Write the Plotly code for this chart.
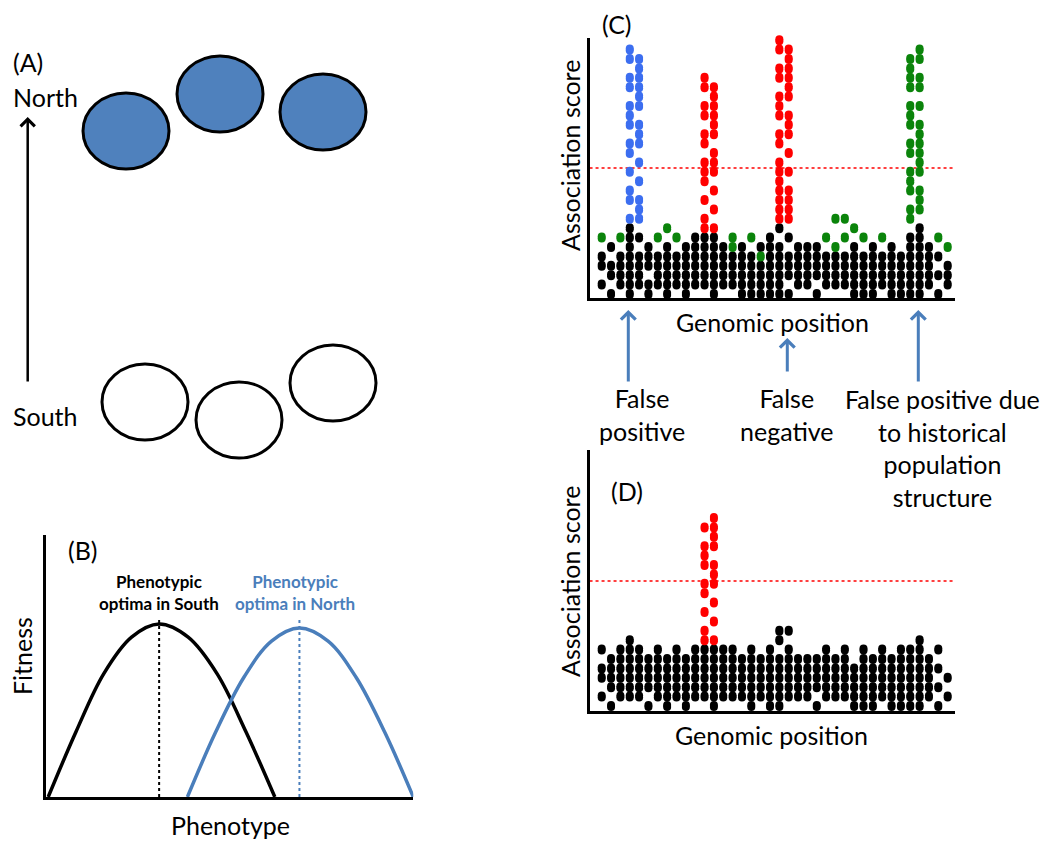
import plotly.graph_objects as go

W, H = 1050, 843

# ---------------- Panel A: populations on a north-south map ----------------
north_x = [126, 220, 323]
north_y = [131, 94, 112]
south_x = [145, 239, 333]
south_y = [402, 420, 383]

# ---------------- Panel B: fitness curves ----------------
pheno_south = [0.6, 8.2, 15.7, 23.3, 30.8, 38.7, 46.6, 54.4, 62.3]
fit_south = [0.0, 0.25, 0.47, 0.61, 0.66, 0.61, 0.47, 0.25, 0.0]
pheno_north = [38.5, 46.1, 53.8, 61.4, 69.0, 76.8, 84.5, 92.3, 100.0]
fit_north = [0.0, 0.245, 0.455, 0.595, 0.645, 0.595, 0.455, 0.245, 0.0]
optimum_south = 30.8
optimum_north = 69.0
optimum_height = 0.676

# ---------------- Panel C / D: association scores ----------------
# one string per genomic position, bottom level first:
# '.' empty, 'k' black, 'g' green, 'b' blue, 'r' red
c_columns = [
    ".k.kk.g", "k.kk.k", ".kkkk.g", "kkkkkkkk", ".kkkk.k", "kk.kkk",
    ".kkkk.g", "kkkkkk.g", ".kkkk.g", "kkkkkk", ".kkkkkk", ".kkkkkk",
    "kkkkkkk", ".kkkkk", ".kkkkgg", "kkkkkk", "kkkkk.g", "kkkkgk",
    "kkkkkkk", "kkkkkk.k", "k.kkk.k", ".kkkkk", ".kkkkk", "k.kkkk",
    ".kkkk.g", ".kkkkg..g", ".kkkk.g.g", "kkkkkk.g", "kkkkk.g", "kkkkkk",
    ".kkkk.g", "kkkkkk", "kkkkk", "kkkkkkk", "kkkkkkkk", ".kkkkk",
    "k.k.k.g", ".kkk.g",
]
# peaks: (position, colour, levels)
c_peaks = [
    (3, "b", [8, 10, 11, 13, 15, 16, 18, 19, 20, 22, 23, 25, 26]),
    (4, "b", [8, 9, 10, 12, 14, 16, 17, 18, 20, 21, 22, 23, 24, 25]),
    (11, "r", [7, 8, 10, 12, 13, 14, 16, 17, 19, 20, 22, 23]),
    (12, "r", [7, 9, 11, 13, 14, 15, 17, 18, 19, 20, 21, 22]),
    (19, "r", [8, 9, 10, 11, 12, 13, 14, 16, 17, 19, 20, 21, 23, 24, 26, 27]),
    (20, "r", [8, 9, 10, 11, 13, 15, 17, 18, 19, 21, 22, 23, 24, 25, 26]),
    (33, "g", [8, 9, 11, 12, 13, 15, 16, 18, 19, 20, 22, 23, 24, 25]),
    (34, "g", [9, 10, 11, 13, 14, 15, 16, 17, 18, 20, 22, 23, 25, 26]),
]
c_threshold = 13.4

d_columns = [
    ".k.kk.k", "k.kkkk", ".kkkkkk", ".kkkkkkk", ".kkkkkk", "k.kkkk",
    ".kkkkkk", "kkkkkk", ".kkkkkk", "kkkkkk", ".kkkkkk", ".kkkkkk",
    "kkkkkkk", ".kkkkkk", ".kkkkkk", ".kkkkk", "kkkkkkk", ".kkkkk",
    "kkkkkkk", "kkkkkk.kk", ".kkkkkk.k", ".kkkkk", ".kkkkk", "k.kkkk",
    ".kkkkkk", ".kkkkk", ".kkkkkk", "kkkkk", "kkkkkkk", "kkkkkk",
    ".kkkkkk", "kkkkkk", "kkkkkkk", "kkkkkkk", "kkkkkkkk", ".kkkkk",
    "k.k.k.k", ".k.k",
]
d_peaks = [
    (11, "r", [7, 8, 10, 12, 13, 15, 16, 17, 19]),
    (12, "r", [7, 9, 11, 13, 14, 15, 17, 18, 19, 20]),
]
d_threshold = 13.3

# ---------------- styling ----------------
FONT = "Lato"
BLUE_LINE = "#4a7ebb"
FILL_BLUE = "#4f81bd"
DOT_COLORS = {"k": "#000000", "g": "#0b840b", "b": "#3c6ef0", "r": "#ff0000"}


def xdom(p0, p1):
    return [p0 / W, p1 / W]


def ydom(p0, p1):
    return [1 - p1 / H, 1 - p0 / H]


def px(x):
    return x / W


def py(y):
    return 1 - y / H


fig = go.Figure()

# ---------- Panel A ----------
shapes = []
for cx, cy in zip(north_x, north_y):
    shapes.append(dict(type="circle", xref="x", yref="y", x0=cx - 43, x1=cx + 43,
                       y0=cy - 38, y1=cy + 38, fillcolor=FILL_BLUE,
                       line=dict(color="black", width=3)))
for cx, cy in zip(south_x, south_y):
    shapes.append(dict(type="circle", xref="x", yref="y", x0=cx - 43, x1=cx + 43,
                       y0=cy - 38, y1=cy + 38, fillcolor="white",
                       line=dict(color="black", width=3)))
fig.add_trace(go.Scatter(x=north_x + south_x, y=north_y + south_y, mode="markers",
                         marker=dict(size=1, opacity=0), xaxis="x", yaxis="y",
                         hoverinfo="skip"))

# ---------- Panel B ----------
fig.add_trace(go.Scatter(x=[optimum_south, optimum_south], y=[0, optimum_height],
                         mode="lines", line=dict(color="black", width=2, dash="dot"),
                         xaxis="x2", yaxis="y2", cliponaxis=False))
fig.add_trace(go.Scatter(x=[optimum_north, optimum_north], y=[0, optimum_height],
                         mode="lines", line=dict(color=BLUE_LINE, width=2, dash="dot"),
                         xaxis="x2", yaxis="y2", cliponaxis=False))
fig.add_trace(go.Scatter(x=pheno_south, y=fit_south, mode="lines",
                         line=dict(color="black", width=3.5, shape="spline", smoothing=1),
                         xaxis="x2", yaxis="y2", cliponaxis=False))
fig.add_trace(go.Scatter(x=pheno_north, y=fit_north, mode="lines",
                         line=dict(color=BLUE_LINE, width=3.5, shape="spline", smoothing=1),
                         xaxis="x2", yaxis="y2", cliponaxis=False))


# ---------- Panels C & D ----------
def add_dots(columns, peaks, threshold, xa, ya):
    n = len(columns)
    fig.add_trace(go.Scatter(x=[-1.3, n - 0.2], y=[threshold, threshold], mode="lines",
                             line=dict(color="red", width=1.5, dash="dot"),
                             xaxis=xa, yaxis=ya, cliponaxis=False))
    pts = {k: ([], []) for k in DOT_COLORS}
    for i, col in enumerate(columns):
        for lvl, ch in enumerate(col):
            if ch != ".":
                pts[ch][0].append(i)
                pts[ch][1].append(lvl)
    for pos, colr, levels in peaks:
        for lvl in levels:
            pts[colr][0].append(pos)
            pts[colr][1].append(lvl)
    off = 1.0 / 9.4  # ~1 px in level units -> elongated dots
    for key in ["k", "g", "b", "r"]:
        xs, ys = pts[key]
        if not xs:
            continue
        for s in (-off, off):
            fig.add_trace(go.Scatter(x=xs, y=[v + s for v in ys], mode="markers",
                                     marker=dict(size=8, color=DOT_COLORS[key], line=dict(width=0)),
                                     xaxis=xa, yaxis=ya, cliponaxis=False, hoverinfo="skip"))


add_dots(c_columns, c_peaks, c_threshold, "x3", "y3")
add_dots(d_columns, d_peaks, d_threshold, "x4", "y4")

# ---------- axes ----------
hidden = dict(visible=False, showgrid=False, zeroline=False)
line_ax = dict(showline=True, linecolor="black", linewidth=3, showgrid=False,
               zeroline=False, showticklabels=False, ticks="", fixedrange=True)

col_px0, col_step = 601.7, 9.35
x_lo = (590 - col_px0) / col_step
x_hi = (955 - col_px0) / col_step

layout = dict(
    width=W, height=H, margin=dict(l=0, r=0, t=0, b=0),
    paper_bgcolor="white", plot_bgcolor="rgba(0,0,0,0)", showlegend=False,
    xaxis=dict(domain=xdom(0, 400), range=[0, 400], anchor="y", **hidden),
    yaxis=dict(domain=ydom(40, 470), range=[470, 40], anchor="x", **hidden),
    xaxis2=dict(domain=xdom(46, 413.3), range=[0, 100], anchor="y2", **line_ax),
    yaxis2=dict(domain=ydom(535, 797), range=[0, 1], anchor="x2", **line_ax),
    xaxis3=dict(domain=xdom(590, 955), range=[x_lo, x_hi], anchor="y3", **line_ax),
    yaxis3=dict(domain=ydom(38, 298), range=[(294 - 298) / 9.4, (294 - 38) / 9.4],
                anchor="x3", **line_ax),
    xaxis4=dict(domain=xdom(590, 955), range=[x_lo, x_hi], anchor="y4", **line_ax),
    yaxis4=dict(domain=ydom(450, 711), range=[(706 - 711) / 9.4, (706 - 450) / 9.4],
                anchor="x4", **line_ax),
    shapes=shapes,
)
fig.update_layout(**layout)

# ---------- text ----------
ann = []


def text(t, x, y, size=25, color="black", angle=0, align="center"):
    ann.append(dict(text=t, x=px(x), y=py(y), xref="paper", yref="paper",
                    showarrow=False, xanchor="center", yanchor="middle",
                    textangle=angle, align=align,
                    font=dict(family=FONT, size=size, color=color)))


text("(A)", 28, 62)
text("North", 45, 97)
text("South", 45, 416)
text("(B)", 83, 550)
text("Fitness", 22, 656, angle=-90)
text("Phenotype", 230, 825)
text("<b>Phenotypic<br>optima in South</b>", 159, 592, size=17)
text("<b>Phenotypic<br>optima in North</b>", 295, 592, size=17, color=BLUE_LINE)
text("(C)", 617, 24)
text("Association score", 570, 156, angle=-90)
text("Genomic position", 772, 322)
text("False<br>positive", 642, 414)
text("False<br>negative", 787, 414)
text("False positive due<br>to historical<br>population<br>structure", 942, 448)
text("(D)", 627, 491)
text("Association score", 570, 582, angle=-90)
text("Genomic position", 771, 735)


def arrow(x, y_tip, length, color, width, size):
    ann.append(dict(text="", x=px(x), y=py(y_tip), xref="paper", yref="paper",
                    showarrow=True, ax=0, ay=length, axref="pixel", ayref="pixel",
                    arrowhead=4, arrowsize=size, arrowwidth=width, arrowcolor=color,
                    standoff=0))


arrow(27.7, 117, 266, "black", 2.5, 1.1)
arrow(628.3, 310, 73, BLUE_LINE, 3, 0.95)
arrow(787.3, 338, 35, BLUE_LINE, 3, 0.95)
arrow(918.3, 310, 73, BLUE_LINE, 3, 0.95)

fig.update_layout(annotations=ann)

fig.write_html("out.html",
               config={"displayModeBar": False, "staticPlot": True},
               post_script="document.body.style.margin='0';document.body.style.overflow='hidden';")
